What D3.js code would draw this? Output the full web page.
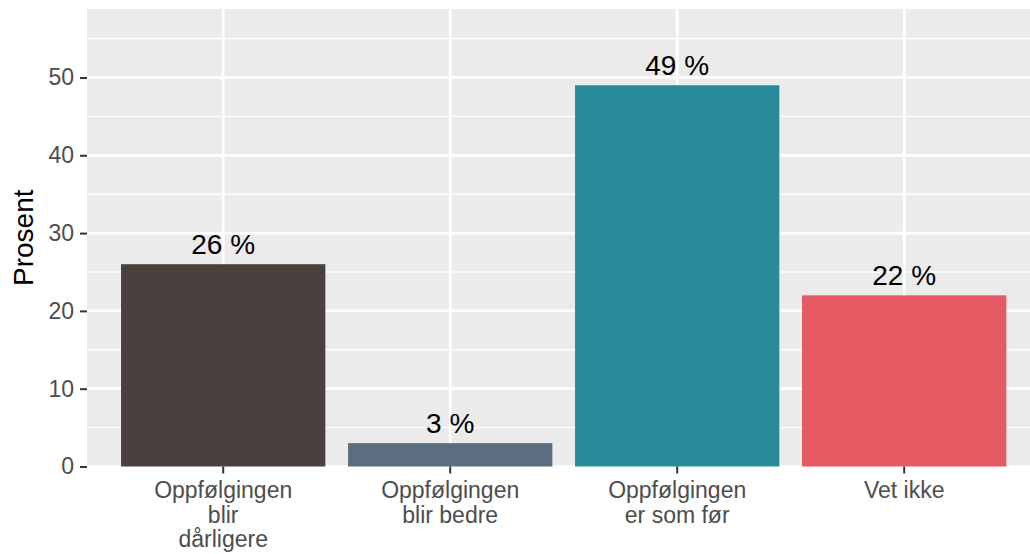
<!DOCTYPE html>
<html>
<head>
<meta charset="utf-8">
<script src="https://cdn.jsdelivr.net/npm/d3@7"></script>
<style>
  body { margin: 0; background: #fff; }
  text { font-family: "Liberation Sans", Arial, sans-serif; }
</style>
</head>
<body>
<svg></svg>
<script>
// data
var categories = [
  ["Oppfølgingen", "blir", "dårligere"],
  ["Oppfølgingen", "blir bedre"],
  ["Oppfølgingen", "er som før"],
  ["Vet ikke"]
];
var values = [26, 3, 49, 22];
var colors = ["#4c403e", "#5a6e80", "#278b9a", "#e65a64"];
var yTicks = [0, 10, 20, 30, 40, 50];
var yMinor = [5, 15, 25, 35, 45, 55];

var width = 1030;
var height = 554;
var panelLeft = 87, panelTop = 9, panelBottom = 466.5;
var step = 227;
var panelRight = panelLeft + step * 4.2;

var svg = d3.select("svg")
            .attr("width", width)
            .attr("height", height);

var ids = categories.map(function(d, i) { return i; });

var x = d3.scaleBand()
          .domain(ids)
          .range([panelLeft + step * 0.6 - step / 2, panelRight - step * 0.6 + step / 2])
          .paddingInner(0.1)
          .paddingOuter(0.05);

var yMax = d3.max(values) * 1.2;
var y = d3.scaleLinear()
          .domain([0, yMax])
          .range([panelBottom, panelTop]);

var center = function(i) { return x(i) + x.bandwidth() / 2; };

// panel
svg.append("rect")
   .attr("x", panelLeft)
   .attr("y", panelTop)
   .attr("width", panelRight - panelLeft)
   .attr("height", panelBottom - panelTop)
   .attr("fill", "#ebebeb");

svg.selectAll("line.minor")
   .data(yMinor)
   .enter()
   .append("line")
   .attr("class", "minor")
   .attr("x1", panelLeft)
   .attr("x2", panelRight)
   .attr("y1", function(d) { return y(d); })
   .attr("y2", function(d) { return y(d); })
   .attr("stroke", "#fff")
   .attr("stroke-width", 1.4);

svg.selectAll("line.major")
   .data(yTicks)
   .enter()
   .append("line")
   .attr("class", "major")
   .attr("x1", panelLeft)
   .attr("x2", panelRight)
   .attr("y1", function(d) { return y(d); })
   .attr("y2", function(d) { return y(d); })
   .attr("stroke", "#fff")
   .attr("stroke-width", 2.7);

svg.selectAll("line.vgrid")
   .data(ids)
   .enter()
   .append("line")
   .attr("class", "vgrid")
   .attr("x1", center)
   .attr("x2", center)
   .attr("y1", panelTop)
   .attr("y2", panelBottom)
   .attr("stroke", "#fff")
   .attr("stroke-width", 2.7);

// bars
svg.selectAll("rect.bar")
   .data(values)
   .enter()
   .append("rect")
   .attr("class", "bar")
   .attr("x", function(d, i) { return x(i); })
   .attr("y", function(d) { return y(d); })
   .attr("width", x.bandwidth())
   .attr("height", function(d) { return panelBottom - y(d); })
   .attr("fill", function(d, i) { return colors[i]; });

svg.selectAll("text.val")
   .data(values)
   .enter()
   .append("text")
   .attr("class", "val")
   .text(function(d) { return d + " %"; })
   .attr("x", function(d, i) { return center(i); })
   .attr("y", function(d) { return y(d) - 10; })
   .attr("text-anchor", "middle")
   .attr("font-size", 28)
   .attr("fill", "#000");

// y axis
var yAxis = svg.append("g")
               .attr("transform", "translate(" + panelLeft + ",0)")
               .call(d3.axisLeft(y).tickValues(yTicks).tickSize(7).tickPadding(6));
yAxis.select(".domain").remove();
yAxis.selectAll(".tick line").attr("stroke", "#333").attr("stroke-width", 2);
yAxis.selectAll(".tick text")
     .attr("font-size", 23)
     .attr("fill", "#4d4d4d")
     .attr("font-family", "Liberation Sans, Arial, sans-serif");

// x axis
var xAxis = svg.append("g")
               .attr("transform", "translate(0," + panelBottom + ")")
               .call(d3.axisBottom(x).tickSize(7).tickFormat(""));
xAxis.select(".domain").remove();
xAxis.selectAll(".tick line").attr("stroke", "#333").attr("stroke-width", 2);

svg.selectAll("text.cat")
   .data(categories)
   .enter()
   .append("text")
   .attr("class", "cat")
   .attr("x", function(d, i) { return center(i); })
   .attr("y", 498)
   .attr("text-anchor", "middle")
   .attr("font-size", 23)
   .attr("fill", "#4d4d4d")
   .selectAll("tspan")
   .data(function(d) { return d; })
   .enter()
   .append("tspan")
   .attr("x", function() { return d3.select(this.parentNode).attr("x"); })
   .attr("dy", function(d, i) { return i === 0 ? 0 : 24.5; })
   .text(function(d) { return d; });

svg.append("text")
   .text("Prosent")
   .attr("transform", "translate(33," + ((panelTop + panelBottom) / 2) + ") rotate(-90)")
   .attr("text-anchor", "middle")
   .attr("font-size", 28)
   .attr("fill", "#000");
</script>
</body>
</html>
